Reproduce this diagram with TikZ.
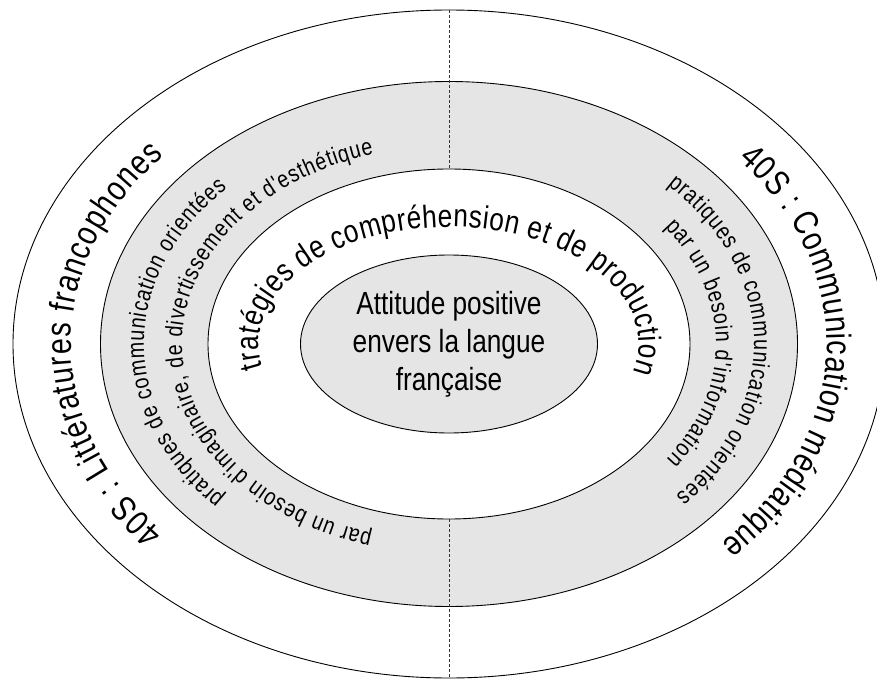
\documentclass[tikz,border=0pt]{standalone}
\usepackage{fontspec}
\newfontfamily\narrowfont{Liberation Sans}[FakeStretch=0.82]
\usepackage{tikz}
\usetikzlibrary{decorations.text}
\usetikzlibrary{shapes.geometric}

\definecolor{bandgray}{gray}{0.9}
\newcommand{\bigringfont}{\narrowfont\fontsize{35}{42}\selectfont}
\newcommand{\midringfont}{\narrowfont\fontsize{32}{38}\selectfont}
\newcommand{\centerfont}{\narrowfont\fontsize{32}{38}\selectfont}
\newcommand{\bandfont}{\narrowfont\fontsize{24}{28}\selectfont}

\tikzset{
    ringline/.style={draw=black, line width=0.9pt},
    ringtext/.style={decorate, decoration={text along path, text align=fit to path}},
    divider/.style={draw=black!80, line width=0.8pt, dash pattern=on 3pt off 2pt},
}

\begin{document}
\begin{tikzpicture}[x=1pt,y=1pt]
        \def\rxOut{436}  \def\ryOut{334}
        \def\rxBand{348.5} \def\ryBand{262.5}
        \def\rxIn{241}   \def\ryIn{175}
        % baselines of the curved texts
        \def\rxA{378} \def\ryA{287}
        \def\rxB{190} \def\ryB{117}
        \def\rxC{305} \def\ryC{227}
        \def\rxD{267} \def\ryD{198}

        \useasboundingbox (-449,-336) rectangle (428,344);
        \clip (-449,-336) rectangle (428,344);

        \draw[ringline, fill=white] (0,0) ellipse [x radius=\rxOut pt, y radius=\ryOut pt];
        \draw[ringline, fill=bandgray] (0,0) ellipse [x radius=\rxBand pt, y radius=\ryBand pt];
        \draw[ringline, fill=white] (0,0) ellipse [x radius=\rxIn pt, y radius=\ryIn pt];

        \coordinate (outtop) at (0,\ryOut);
        \coordinate (intop) at (0,\ryIn);
        \coordinate (inbot) at (0,-\ryIn);
        \coordinate (outbot) at (0,-\ryOut);
        \draw[divider] (outtop) -- (intop);
        \draw[divider] (inbot) -- (outbot);

        \node[ellipse, ringline, fill=bandgray, minimum width=297pt, minimum height=178pt, inner sep=0pt,
              align=center, font=\centerfont] (attitude) at (0,0) {Attitude positive\\envers la langue\\française};

        % outer ring
        \path[ringtext, decoration={text={|\bigringfont|40S : Littératures francophones}}]
            (221:\rxA pt and \ryA pt) arc[start angle=221, end angle=139, x radius=\rxA pt, y radius=\ryA pt];
        \path[ringtext, decoration={text={|\bigringfont|40S : Communication médiatique}}]
            (40:\rxA pt and \ryA pt) arc[start angle=40, end angle=-44, x radius=\rxA pt, y radius=\ryA pt];

        % grey band
        \path[ringtext, decoration={text={|\bandfont|pratiques de communication orientées}}]
            (222.6:\rxC pt and \ryC pt) arc[start angle=222.6, end angle=136.7, x radius=\rxC pt, y radius=\ryC pt];
        \path[ringtext, decoration={text={|\bandfont|par un besoin d'imaginaire, de divertissement et d'esthétique}}]
            (253.3:\rxD pt and \ryD pt) arc[start angle=253.3, end angle=106.4, x radius=\rxD pt, y radius=\ryD pt];
        \path[ringtext, decoration={text={|\bandfont|pratiques de communication orientées}}]
            (44.3:\rxC pt and \ryC pt) arc[start angle=44.3, end angle=-41.9, x radius=\rxC pt, y radius=\ryC pt];
        \path[ringtext, decoration={text={|\bandfont|par un besoin d'information}}]
            (36.2:\rxD pt and \ryD pt) arc[start angle=36.2, end angle=-35.5, x radius=\rxD pt, y radius=\ryD pt];

        % white ring
        \path[ringtext, decoration={text={|\midringfont|tratégies de compréhension et de production}}]
            (191.5:\rxB pt and \ryB pt) arc[start angle=191.5, end angle=-14, x radius=\rxB pt, y radius=\ryB pt];

\end{tikzpicture}
\end{document}
